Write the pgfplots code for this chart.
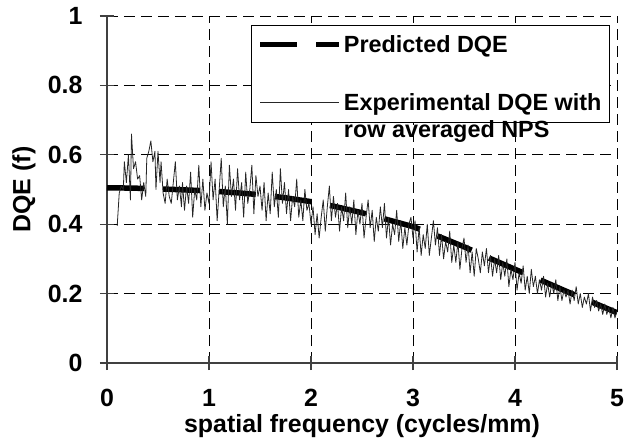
\documentclass[border=0pt]{standalone}
\usepackage{fontspec}
\setmainfont{Liberation Sans}
\usepackage{pgfplots}
\pgfplotsset{compat=1.18}
\begin{document}
\begin{tikzpicture}
\useasboundingbox (-107bp,-84bp) rectangle (518bp,363bp);
\begin{axis}[
  at={(0,0)}, anchor=south west,
  width=510bp, height=347bp, scale only axis,
  xmin=0, xmax=5, ymin=0, ymax=1,
  axis x line*=bottom, axis y line*=left,
  axis line style={draw=black!75, line width=1.5bp, -},
  xtick={0,1,2,3,4,5}, ytick={0,0.2,0.4,0.6,0.8,1},
  tick align=center, major tick length=14bp,
  tick style={draw=black!75, line width=1.2bp},
  grid=major, grid style={draw=black, line width=0.8bp, dash pattern=on 11bp off 6bp},
  ticklabel style={font=\fontsize{25}{30}\selectfont\bfseries},
  xticklabel style={yshift=-16bp},
  yticklabel style={xshift=-14bp},
  /pgf/number format/assume math mode=true,
  xlabel={spatial frequency (cycles/mm)}, ylabel={DQE (f)},
  label style={font=\fontsize{25}{30}\selectfont\bfseries},
  xlabel style={at={(axis description cs:0.5,-0.182)}, anchor=center},
  ylabel style={at={(axis description cs:-0.163,0.5)}, anchor=center},
  legend style={at={(rel axis cs:0.2824,0.974)}, anchor=north west, draw=black, line width=0.8bp, fill=white,
    font=\fontsize{23.5}{27}\selectfont\bfseries, cells={anchor=base west}, row sep=34bp, inner xsep=6bp, inner ysep=8bp},
  legend image code/.code={\draw[#1] (0bp,8bp) -- (79bp,8bp);},
]
\addplot[black, line width=5.5bp, dash pattern=on 37bp off 19bp] coordinates {
(0,0.505) (0.25,0.504) (0.5,0.502) (0.75,0.499) (1.0,0.496) (1.25,0.491) (1.5,0.485) (1.75,0.476) (2.0,0.465) (2.25,0.45) (2.5,0.433) (2.75,0.413) (3.0,0.393) (3.25,0.365) (3.5,0.335) (3.75,0.302) (4.0,0.27) (4.25,0.239) (4.5,0.207) (4.75,0.176) (5.0,0.145)};
\addlegendentry{Predicted DQE}
\addplot[black!85, line width=0.8bp, line join=round] table {
0.10 0.395
0.12 0.49
0.14 0.51
0.16 0.50
0.17 0.58
0.19 0.52
0.21 0.60
0.23 0.47
0.24 0.66
0.26 0.56
0.28 0.58
0.30 0.53
0.32 0.54
0.34 0.47
0.36 0.52
0.38 0.48
0.39 0.59
0.41 0.61
0.43 0.64
0.45 0.58
0.47 0.61
0.48 0.50
0.50 0.61
0.52 0.52
0.53 0.58
0.55 0.49
0.57 0.46
0.59 0.53
0.61 0.48
0.63 0.46
0.65 0.52
0.67 0.58
0.69 0.47
0.71 0.51
0.73 0.45
0.74 0.52
0.76 0.44
0.78 0.51
0.80 0.46
0.82 0.55
0.84 0.42
0.86 0.50
0.88 0.47
0.90 0.57
0.92 0.45
0.94 0.53
0.96 0.44
0.98 0.49
1.00 0.46
1.02 0.58
1.04 0.47
1.06 0.53
1.08 0.41
1.10 0.50
1.12 0.59
1.14 0.45
1.16 0.51
1.18 0.40
1.20 0.57
1.22 0.48
1.24 0.53
1.26 0.44
1.28 0.56
1.30 0.47
1.32 0.52
1.34 0.42
1.36 0.55
1.38 0.46
1.40 0.50
1.42 0.57
1.44 0.43
1.46 0.54
1.48 0.48
1.50 0.51
1.52 0.44
1.54 0.52
1.56 0.41
1.58 0.49
1.60 0.43
1.62 0.55
1.64 0.45
1.66 0.50
1.68 0.42
1.70 0.56
1.72 0.46
1.74 0.52
1.76 0.43
1.78 0.50
1.80 0.41
1.82 0.48
1.84 0.45
1.86 0.53
1.88 0.42
1.90 0.47
1.92 0.41
1.94 0.50
1.96 0.44
1.98 0.46
2.00 0.40
2.02 0.45
2.04 0.37
2.06 0.43
2.08 0.36
2.10 0.42
2.12 0.47
2.14 0.38
2.16 0.45
2.18 0.51
2.20 0.41
2.22 0.48
2.24 0.42
2.26 0.46
2.28 0.38
2.30 0.45
2.32 0.41
2.34 0.49
2.36 0.39
2.38 0.45
2.40 0.40
2.42 0.47
2.44 0.37
2.46 0.44
2.48 0.40
2.50 0.46
2.52 0.36
2.54 0.42
2.56 0.47
2.58 0.39
2.60 0.44
2.62 0.35
2.64 0.42
2.66 0.38
2.68 0.45
2.70 0.39
2.72 0.46
2.74 0.36
2.76 0.42
2.78 0.34
2.80 0.40
2.82 0.37
2.84 0.44
2.86 0.35
2.88 0.41
2.90 0.33
2.92 0.39
2.94 0.34
2.96 0.40
2.98 0.42
3.00 0.36
3.02 0.41
3.04 0.32
3.06 0.39
3.08 0.31
3.10 0.37
3.12 0.33
3.14 0.40
3.16 0.31
3.18 0.36
3.20 0.41
3.22 0.34
3.24 0.39
3.26 0.31
3.28 0.37
3.30 0.30
3.32 0.35
3.34 0.32
3.36 0.38
3.38 0.29
3.40 0.34
3.42 0.29
3.44 0.35
3.46 0.27
3.48 0.33
3.50 0.36
3.52 0.29
3.54 0.34
3.56 0.26
3.58 0.32
3.60 0.25
3.62 0.33
3.64 0.30
3.66 0.26
3.68 0.32
3.70 0.28
3.72 0.33
3.74 0.26
3.76 0.31
3.78 0.25
3.80 0.30
3.82 0.26
3.84 0.31
3.86 0.24
3.88 0.29
3.90 0.25
3.92 0.30
3.94 0.22
3.96 0.27
3.98 0.24
4.00 0.29
4.02 0.21
4.04 0.26
4.06 0.23
4.08 0.28
4.10 0.21
4.12 0.25
4.14 0.20
4.16 0.27
4.18 0.22
4.20 0.25
4.22 0.20
4.24 0.24
4.26 0.21
4.28 0.25
4.30 0.19
4.32 0.23
4.34 0.19
4.36 0.23
4.38 0.20
4.40 0.24
4.42 0.18
4.44 0.22
4.46 0.18
4.48 0.21
4.50 0.19
4.52 0.21
4.54 0.17
4.56 0.21
4.58 0.18
4.60 0.22
4.62 0.17
4.64 0.20
4.66 0.16
4.68 0.19
4.70 0.17
4.72 0.20
4.74 0.15
4.76 0.19
4.78 0.16
4.80 0.18
4.82 0.15
4.84 0.17
4.86 0.14
4.88 0.17
4.90 0.14
4.92 0.16
4.94 0.13
4.96 0.16
4.98 0.13
5.00 0.15
};
\addlegendentry{\begin{tabular}[t]{@{}l@{}}Experimental DQE with\\row averaged NPS\end{tabular}}
\end{axis}
\end{tikzpicture}
\end{document}
